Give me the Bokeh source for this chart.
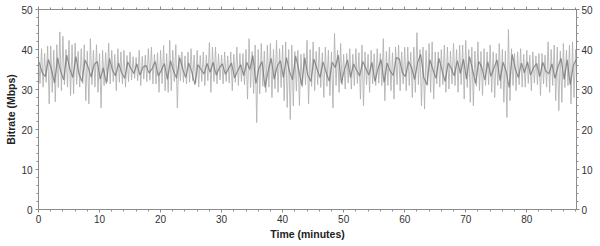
from bokeh.plotting import figure
from bokeh.models import LinearAxis, Range1d, SingleIntervalTicker
from bokeh.embed import file_html
from bokeh.resources import INLINE

# ---- data ----
# upper extremes of the bitrate trace, one per half minute (0 .. 88 min)
peak_hi = [
    38.6, 40.2, 39.0, 40.9, 40.9, 39.8, 41.2, 44.4, 43.3, 40.0, 42.3, 41.2, 41.6, 39.5, 40.2,
    41.2, 39.6, 42.7, 39.8, 41.2, 39.0, 39.8, 39.2, 41.6, 39.8, 38.8, 40.2, 39.4, 39.8, 38.5,
    39.4, 38.2, 38.0, 39.8, 38.3, 38.6, 40.2, 40.6, 38.8, 39.2, 39.8, 41.0, 39.0, 42.3, 39.8,
    41.2, 38.6, 39.4, 38.4, 39.4, 40.2, 38.6, 39.8, 38.5, 39.4, 38.6, 41.7, 40.6, 40.6, 38.9,
    38.6, 39.4, 38.4, 39.4, 38.8, 40.6, 39.0, 39.0, 40.0, 42.7, 39.5, 41.1, 40.0, 41.5, 39.6,
    41.1, 41.5, 40.0, 42.3, 40.2, 41.1, 41.9, 40.0, 41.1, 39.5, 39.8, 38.8, 39.0, 42.3,
    40.0, 41.9, 39.5, 40.6, 39.2, 40.6, 39.8, 39.4, 44.0, 39.8, 41.5, 38.8, 39.0, 40.2, 38.8,
    40.2, 39.2, 41.1, 39.4, 38.8, 39.8, 38.9, 40.2, 39.0, 42.7, 39.5, 40.6, 39.2, 40.6,
    41.1, 39.4, 40.6, 40.6, 39.3, 40.6, 44.2, 40.0, 40.6, 39.8, 41.5, 41.9, 39.4, 39.4, 40.0,
    41.1, 40.6, 39.6, 41.5, 40.0, 41.1, 41.1, 42.3, 40.0, 40.6, 39.6, 41.9, 39.5, 40.2,
    39.4, 41.1, 39.4, 39.0, 41.5, 40.0, 39.6, 45.0, 40.2, 39.0, 39.4, 40.2, 38.8, 39.8, 38.6,
    39.4, 38.4, 39.0, 39.0, 38.6, 41.9, 40.0, 41.1, 40.6, 39.6, 41.5, 39.8, 41.1, 41.9, 40.0,
]
# lower extremes of the trace, one per half minute
peak_lo = [
    31.5, 30.6, 31.8, 26.4, 29.3, 26.9, 30.5, 29.7, 31.2, 30.6, 28.5, 28.9, 31.3, 30.6, 31.5,
    27.2, 26.4, 31.2, 30.6, 29.3, 25.4, 31.0, 32.0, 31.4, 32.0, 29.7, 31.8, 31.4, 30.6, 32.0,
    32.4, 32.8, 32.2, 31.0, 32.6, 32.0, 32.3, 31.4, 31.4, 29.3, 31.5, 29.7, 29.3, 29.7, 32.0,
    25.4, 32.2, 31.8, 31.4, 31.8, 32.2, 31.6, 30.6, 32.0, 31.0, 32.2, 29.3, 32.0, 31.4, 32.4,
    31.4, 32.0, 31.6, 29.7, 31.8, 31.0, 32.0, 31.2, 27.6, 30.5, 29.0, 21.7, 28.9, 30.8, 29.3,
    30.6, 28.0, 30.2, 29.3, 30.5, 27.2, 25.5, 22.5, 25.9, 29.6, 26.0, 30.6, 31.2, 26.4,
    30.8, 29.7, 31.2, 30.5, 28.0, 30.8, 28.5, 25.4, 31.0, 29.3, 31.2, 30.1, 31.6, 30.1, 31.0,
    31.5, 27.6, 25.9, 31.2, 29.3, 31.4, 31.0, 31.6, 31.0, 27.2, 31.0, 29.7, 27.6, 31.2,
    29.7, 31.4, 29.7, 31.0, 28.0, 29.3, 31.2, 25.9, 25.1, 31.0, 29.3, 27.6, 31.4, 30.6, 31.2,
    29.3, 30.1, 31.4, 31.0, 29.3, 31.2, 27.6, 30.5, 26.8, 25.9, 30.8, 29.7, 28.5, 31.0,
    31.2, 29.3, 28.0, 31.0, 30.2, 26.8, 23.0, 27.2, 31.0, 29.7, 31.2, 30.6, 30.6, 31.5, 29.7,
    31.6, 31.2, 28.5, 31.4, 30.6, 29.3, 31.0, 27.2, 24.7, 26.8, 30.5, 31.0, 26.4, 28.0, 30.8,
]
# darker core of the trace, one sample per half minute
core = [
    36.8, 34.1, 33.2, 37.5, 35.0, 31.6, 37.9, 34.6, 32.4, 38.6, 35.2, 33.0, 38.2, 34.0, 32.0,
    37.4, 35.6, 33.1, 36.2, 37.0, 32.6, 35.4, 31.5, 37.8, 34.8, 33.4, 36.6, 34.2, 32.8, 36.9,
    35.3, 34.0, 36.4, 33.6, 35.6, 36.0, 34.1, 35.2, 37.0, 33.4, 34.8, 36.5, 32.5, 37.2, 34.6,
    32.8, 38.0, 35.1, 33.0, 36.6, 34.4, 31.2, 36.2, 35.0, 33.9, 36.5, 34.3, 36.8, 33.6, 35.4,
    36.4, 33.8, 35.2, 36.6, 32.9, 34.7, 36.2, 33.5, 36.8, 35.0, 38.5, 31.5, 35.4, 37.0, 30.5,
    34.6, 37.8, 32.6, 35.8, 37.2, 33.0, 38.0, 34.5, 32.4, 38.4, 35.1, 31.0, 37.9, 33.6,
    32.0, 37.6, 35.2, 33.0, 36.9, 34.3, 32.1, 36.8, 35.5, 38.6, 31.6, 34.9, 37.4, 33.0, 36.4,
    34.8, 33.4, 37.0, 35.3, 33.6, 36.8, 32.0, 35.2, 37.5, 31.8, 36.6, 34.6, 33.5, 38.0,
    37.6, 34.2, 33.2, 37.0, 35.5, 32.5, 36.8, 38.8, 33.0, 31.2, 37.4, 35.0, 32.8, 37.8, 34.7,
    32.0, 36.6, 35.3, 33.4, 37.2, 34.0, 37.6, 32.6, 38.2, 34.9, 31.5, 37.0, 35.6, 32.4,
    36.9, 33.3, 35.4, 37.4, 32.2, 36.8, 34.5, 30.5, 38.8, 35.1, 33.0, 36.6, 34.2, 36.9, 33.6,
    35.5, 36.5, 33.2, 36.8, 34.6, 33.9, 36.4, 32.8, 35.7, 37.8, 32.5, 37.4, 31.2, 36.0, 37.5,
]
minutes = [i * 0.5 for i in range(len(peak_hi))]

# ---- build the traces ----
env_x, env_y = [], []
for t, h, l in zip(minutes, peak_hi, peak_lo):
    env_x += [t, t + 0.25]
    env_y += [h, l]
core_x = [t + 0.125 for t in minutes]

FONT = "Liberation Sans"
AX = "#8c8c8c"

p = figure(width=600, height=246, output_backend="svg", toolbar_location=None,
           x_range=Range1d(0, 88.15), y_range=Range1d(0, 50),
           min_border_left=38, min_border_right=24, min_border_top=9, min_border_bottom=37,
           x_axis_location=None, y_axis_location=None)
p.grid.visible = False
p.outline_line_color = AX
p.background_fill_color = "white"

p.line(env_x, env_y, line_color="#b0b0b0", line_width=1.0, line_alpha=0.85)
p.line(core_x, core, line_color="#707070", line_width=1.2, line_alpha=0.75)


def style(ax):
    ax.axis_line_color = AX
    ax.major_tick_line_color = AX
    ax.minor_tick_line_color = AX
    ax.major_tick_out = 3
    ax.major_tick_in = 0
    ax.minor_tick_out = 2
    ax.minor_tick_in = 0
    ax.major_label_text_font = FONT
    ax.major_label_text_font_size = "10px"
    ax.major_label_text_color = "#333333"
    ax.axis_label_text_font = FONT
    ax.axis_label_text_font_style = "bold"
    ax.axis_label_text_font_size = "10.5px"
    ax.axis_label_text_color = "#222222"


def ticker():
    return SingleIntervalTicker(interval=10, num_minor_ticks=5)


bottom = LinearAxis(ticker=ticker(), axis_label="Time (minutes)")
top = LinearAxis(ticker=ticker())
left = LinearAxis(ticker=ticker(), axis_label="Bitrate (Mbps)")
right = LinearAxis(ticker=ticker())
for ax in (bottom, top, left, right):
    style(ax)
top.major_label_overrides = {v: "" for v in range(0, 100, 10)}
top.major_label_standoff = 0
bottom.major_label_standoff = 2
bottom.axis_label_standoff = 2
left.major_label_standoff = 3
left.axis_label_standoff = 1
right.major_label_standoff = 2

p.add_layout(bottom, "below")
p.add_layout(top, "above")
p.add_layout(left, "left")
p.add_layout(right, "right")

open("out.html", "w").write(file_html(p, INLINE))
